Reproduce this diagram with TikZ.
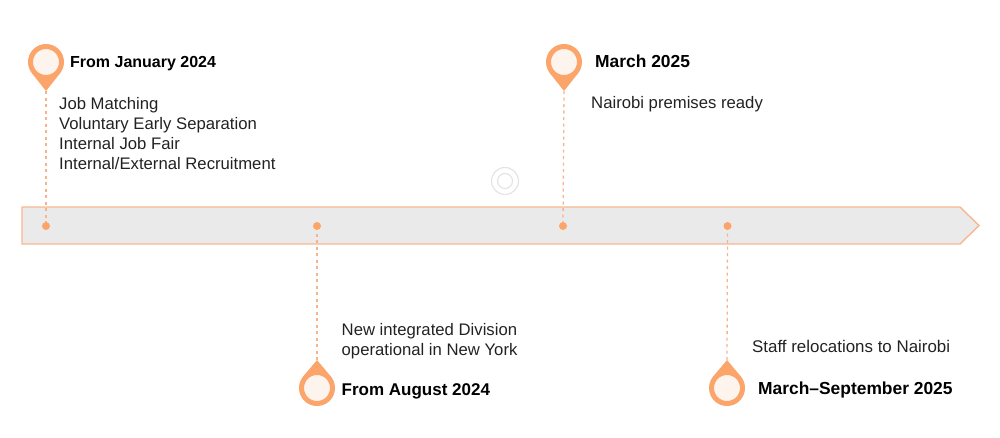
\documentclass[tikz,border=0pt]{standalone}
\usepackage{fontspec}
\setmainfont{Liberation Sans}
\definecolor{pinor}{HTML}{FBA56A}
\definecolor{pinin}{HTML}{FEF4EE}
\definecolor{barfill}{HTML}{EAEAEA}
\definecolor{barline}{HTML}{F7B78F}
\definecolor{dashor}{HTML}{F4B48C}
\definecolor{ringc}{HTML}{E4E4E4}
\definecolor{txt}{HTML}{222222}
\tikzset{
  headc/.style={circle,fill=pinin,draw=pinor,line width=5pt,minimum size=31pt,inner sep=0pt},
  dotc/.style={circle,fill=pinor,minimum size=8pt,inner sep=0pt},
  stem/.style={draw=dashor,line width=1.3pt,dash pattern=on 3pt off 3.5pt},
  bodytext/.style={anchor=base west,inner sep=0pt,align=left,text=txt,font=\fontsize{16.7}{20}\selectfont},
  headtext/.style={anchor=base west,inner sep=0pt,text=black,font=\fontsize{17}{20}\selectfont\bfseries},
  ring/.style={circle,draw=ringc,line width=1.2pt,inner sep=0pt,fill=none},
}
\begin{document}
\begin{tikzpicture}[x=1pt,y=-1pt]
\useasboundingbox (0,0) rectangle (1000,437);
% bar
\draw[fill=barfill,draw=barline,line width=1.4pt] (22,207) -- (960,207) -- (979,225.5) -- (960,244) -- (22,244) -- cycle;
% ring
\node[ring,minimum size=27pt] (r1) at (505,181) {};
\node[ring,minimum size=15pt] (r2) at (505,181) {};
% dots
\node[dotc] (d1) at (46,226) {};
\node[dotc] (d2) at (317,226) {};
\node[dotc] (d3) at (563,226) {};
\node[dotc] (d4) at (727.5,226) {};
% tips
\coordinate (t1) at (46,91);
\coordinate (t2) at (317,360);
\coordinate (t3) at (564,91);
\coordinate (t4) at (727,360);
% stems
\draw[stem] (t1) -- (d1);
\draw[stem] (t2) -- (d2);
\draw[stem] (t3) -- (d3);
\draw[stem] (t4) -- (d4);
% pin teardrops
\fill[pinor] (31.9,73.2) -- (t1) -- (60.1,73.2) -- cycle;
\fill[pinor] (302.9,376.8) -- (t2) -- (331.1,376.8) -- cycle;
\fill[pinor] (549.9,73.2) -- (t3) -- (578.1,73.2) -- cycle;
\fill[pinor] (712.9,376.8) -- (t4) -- (741.1,376.8) -- cycle;
% pin heads
\node[headc] (p1) at (46,62) {};
\node[headc] (p2) at (317,388) {};
\node[headc] (p3) at (564,62) {};
\node[headc] (p4) at (727,388) {};
% text
\node[headtext,font=\fontsize{16}{20}\selectfont\bfseries] (h1) at (70,67) {From January 2024};
\node[bodytext,anchor=north west] (b1) at (59,97.5) {Job Matching\\Voluntary Early Separation\\Internal Job Fair\\Internal/External Recruitment};
\node[headtext,font=\fontsize{17.4}{20}\selectfont\bfseries] (h3) at (595,67) {March 2025};
\node[bodytext] (b3) at (591,108) {Nairobi premises ready};
\node[bodytext,anchor=north west] (b2) at (341.5,323) {New integrated Division\\operational in New York};
\node[headtext] (h2) at (341.5,395) {From August 2024};
\node[bodytext,font=\fontsize{16.9}{20}\selectfont] (b4) at (752,352) {Staff relocations to Nairobi};
\node[headtext,font=\fontsize{17.4}{20}\selectfont\bfseries] (h4) at (758,394) {March–September 2025};
\end{tikzpicture}
\end{document}
